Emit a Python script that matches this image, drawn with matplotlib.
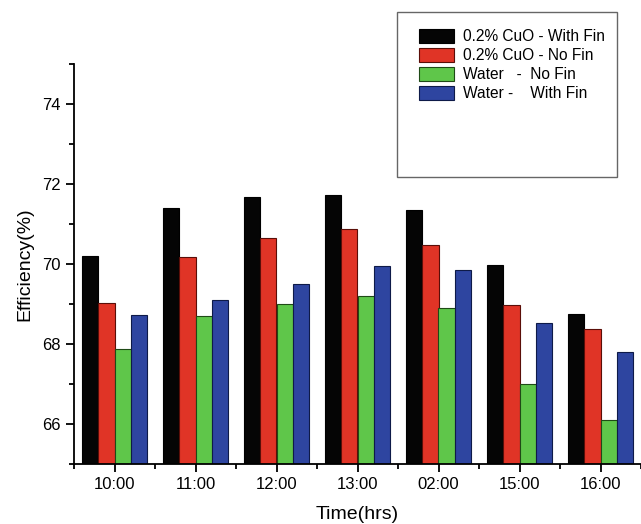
import matplotlib
matplotlib.use("Agg")
import matplotlib.pyplot as plt
from matplotlib.patches import Rectangle
import numpy as np

plt.rcParams['font.family'] = ['Liberation Sans', 'DejaVu Sans']

times = ['10:00', '11:00', '12:00', '13:00', '02:00', '15:00', '16:00']
cuo_fin = [70.21, 71.41, 71.68, 71.74, 71.35, 69.97, 68.74]
cuo_nofin = [69.03, 70.17, 70.65, 70.87, 70.48, 68.97, 68.38]
water_nofin = [67.87, 68.70, 69.00, 69.20, 68.90, 67.00, 66.10]
water_fin = [68.73, 69.10, 69.50, 69.96, 69.86, 68.53, 67.80]

labels = ['0.2% CuO - With Fin', '0.2% CuO - No Fin', 'Water   -  No Fin', 'Water -    With Fin']
colors = ['#050505', '#e03426', '#5fc64a', '#2e45a0']
edges = ['#000000', '#5a0e08', '#1f4a16', '#0e1a48']

fig = plt.figure(figsize=(6.41, 5.24), dpi=100)
ax = fig.add_axes([74 / 641, 0.1145, 567 / 641, 0.763])

x = np.arange(len(times))
w = 0.2
series = [cuo_fin, cuo_nofin, water_nofin, water_fin]
for i, vals in enumerate(series):
    ax.bar(x + (i - 1.5) * w, np.array(vals) - 65, w, bottom=65,
           color=colors[i], edgecolor=edges[i], linewidth=0.8, label=labels[i])

ax.set_xlim(-0.5, 6.5)
ax.set_ylim(65, 75)
ax.set_xticks(x)
ax.set_xticklabels(times, fontsize=12)
ax.set_xticks(np.arange(-0.5, 7.0, 1.0), minor=True)
ax.set_yticks([66, 68, 70, 72, 74])
ax.set_yticks([65, 67, 69, 71, 73, 75], minor=True)
ax.tick_params(axis='y', labelsize=12)
ax.tick_params(which='major', direction='out', length=6, width=1.3)
ax.tick_params(which='minor', direction='out', length=3.5, width=1.3)
ax.spines['top'].set_visible(False)
ax.spines['right'].set_visible(False)
ax.spines['left'].set_linewidth(1.3)
ax.spines['bottom'].set_linewidth(1.3)

ax.set_xlabel('Time(hrs)', fontsize=14, labelpad=10)
ax.set_ylabel('Efficiency(%)', fontsize=14, labelpad=6)

# legend box
fig.patches.append(Rectangle((397 / 641, 1 - 177 / 524), 220 / 641, 165 / 524,
                             transform=fig.transFigure, fill=False,
                             edgecolor='#666666', linewidth=1.0))
leg = fig.legend(loc='upper left', bbox_to_anchor=(419 / 641, 1 - 29 / 524),
                 frameon=False, fontsize=11.2, handlelength=2.25, handleheight=1.0,
                 handletextpad=0.55, labelspacing=0.24, borderpad=0, borderaxespad=0)

fig.savefig('out.png', dpi=100)
